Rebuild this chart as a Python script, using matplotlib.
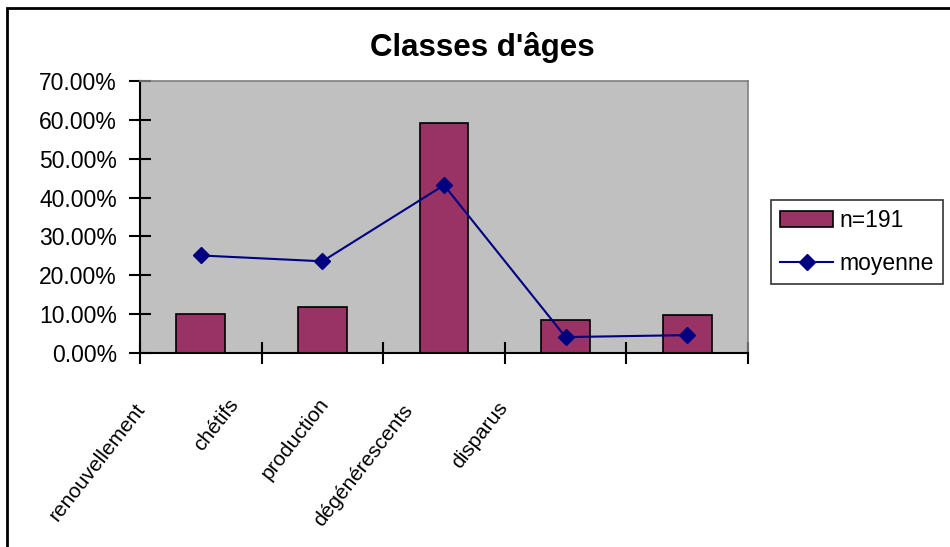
import matplotlib
matplotlib.use('Agg')
import matplotlib.pyplot as plt
from matplotlib.patches import Rectangle
from matplotlib.transforms import offset_copy
from matplotlib.ticker import FuncFormatter, FixedLocator

plt.rcParams['font.family'] = ['Liberation Sans', 'DejaVu Sans']

# Data (percent)
categories = ['renouvellement', 'chétifs', 'production', 'dégénérescents', 'disparus']
n191 = [10.1, 11.8, 59.1, 8.6, 9.7]
moyenne = [25.1, 23.6, 43.2, 4.1, 4.6]
yticks = [0, 10, 20, 30, 40, 50, 60, 70]

# Label offsets from category centre (pixels, right / down) to mimic the original placement
label_dx = [-103, -106, -149, -202, -207]
label_dy = [109, 72, 86, 113, 82]

fig = plt.figure(figsize=(9.5, 5.47), dpi=100)
ax = fig.add_axes([140 / 950, 1 - 353 / 547, 608 / 950, 272 / 547])
ax.set_facecolor('#C0C0C0')

x = list(range(len(categories)))
bars = ax.bar(x, n191, width=0.4, color='#993366', edgecolor='black', linewidth=1.2, label='n=191', zorder=2)
line, = ax.plot(x, moyenne, color='#000080', linewidth=1.5, marker='D', markersize=8, label='moyenne', zorder=3)

ax.set_xlim(-0.5, len(categories) - 0.5)
ax.set_ylim(0, 70)

# Axes styling
for side in ['top', 'right']:
    ax.spines[side].set_color('#808080')
    ax.spines[side].set_linewidth(1.2)
for side in ['left', 'bottom']:
    ax.spines[side].set_color('black')
    ax.spines[side].set_linewidth(1.5)

ax.yaxis.set_major_locator(FixedLocator(yticks))
ax.yaxis.set_major_formatter(FuncFormatter(lambda v, p: '{:.2f}%'.format(v)))
ax.tick_params(axis='y', direction='inout', length=16, width=1.5, pad=8.5, labelsize=16.5)

ax.set_xticks([])
ax.set_xticks([i - 0.5 for i in range(len(categories) + 1)], minor=True)
ax.tick_params(axis='x', which='minor', direction='inout', length=16, width=1.5, labelbottom=False)

# Category labels
for i, name in enumerate(categories):
    tr = offset_copy(ax.get_xaxis_transform(), fig=fig, x=label_dx[i], y=-label_dy[i], units='dots')
    ax.text(i, 0, name, transform=tr, rotation=52, rotation_mode='anchor',
            ha='center', va='center', fontsize=15)

# Title
fig.text(482 / 950, 1 - 48 / 547, "Classes d'âges", ha='center', va='center',
         fontsize=22.5, fontweight='bold')

# Legend
leg = fig.legend([bars, line], ['n=191', 'moyenne'], loc='upper left',
                 bbox_to_anchor=(771 / 950, 1 - 200 / 547),
                 fontsize=16.5, frameon=True, fancybox=False, edgecolor='black',
                 handlelength=2.3, handletextpad=0.3, labelspacing=0.85, borderpad=0.4,
                 borderaxespad=0)
leg.get_frame().set_linewidth(1.2)

# Outer chart frame
fig.patches.append(Rectangle((7 / 950, -0.1), 1.1, (1 - 8 / 547) + 0.1, transform=fig.transFigure,
                             fill=False, edgecolor='black', linewidth=2, zorder=0))

plt.savefig('out.png', dpi=100)
